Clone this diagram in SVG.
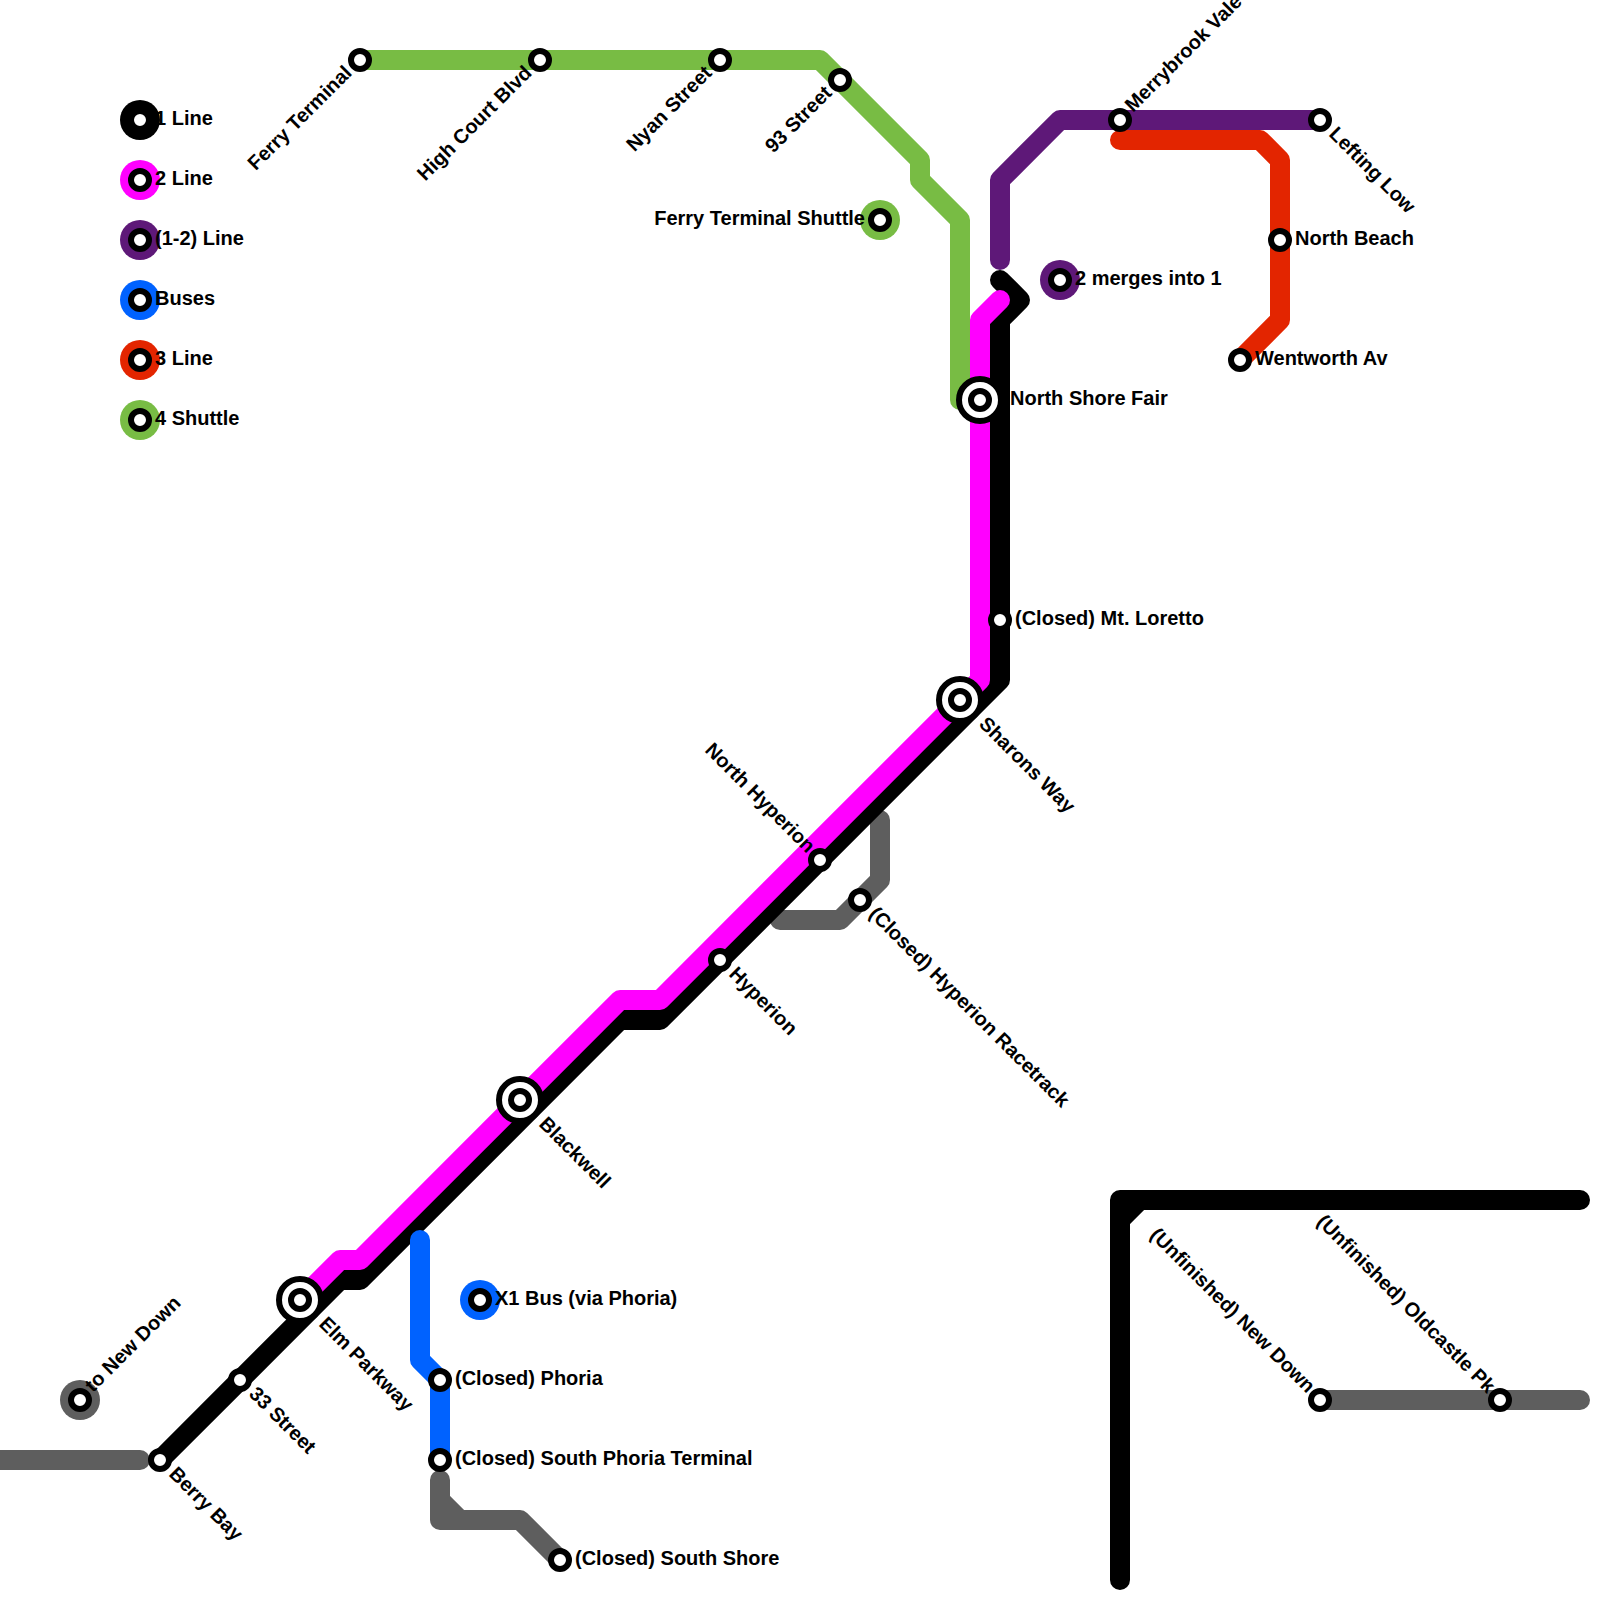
<svg xmlns="http://www.w3.org/2000/svg" width="1600" height="1600" viewBox="0 0 1600 1600">
<style>
.l{fill:none;stroke-width:20;stroke-linecap:round;stroke-linejoin:round}
.k{stroke:#000}.m{stroke:#f0f}.p{stroke:#5e1878}.b{stroke:#0062ff}.r{stroke:#e32500}.g{stroke:#78bc44}.y{stroke:#5e5e5e}
.s{fill:#fff;stroke:#000;stroke-width:6}
.i{fill:#fff;stroke:#000;stroke-width:6}
text{font-family:"Liberation Sans",Arial,sans-serif;font-weight:700;font-size:20px;fill:#000}
.e{text-anchor:end}
</style>
<rect width="1600" height="1600" fill="#fff"/>
<g id="connectors">
<path class="l y" d="M0 1460H140"/>
<path class="l y" d="M1320 1400H1580"/>
<path class="l y" d="M880 820V880L840 920H780"/>
<path class="l y" d="M440 1480V1520H520L560 1560M440 1500L460 1520"/>
<path class="l g" d="M360 60H820L920 160V180L960 220V400"/>
<path class="l p" d="M1000 260V180L1060 120H1320"/>
<path class="l r" d="M1120 140H1260L1280 160V320L1240 360"/>
<path class="l k" d="M1000 280L1020 300L1000 320V680L660 1020H620L360 1280H340L160 1460"/>
<path class="l k" d="M1120 1580V1200H1580M1120 1220L1140 1200"/>
<path class="l m" d="M1000 300L980 320V680L660 1000H620L360 1260H340L300 1300"/>
<path class="l b" d="M420 1240V1360L440 1380V1460"/>
</g>
<g id="legend-1"><circle cx="140" cy="120" r="20" fill="#000"/><circle class="s" cx="140" cy="120" r="9"/><text x="155" y="125">1 Line</text></g>
<g id="legend-2"><circle cx="140" cy="180" r="20" fill="#f0f"/><circle class="s" cx="140" cy="180" r="9"/><text x="155" y="185">2 Line</text></g>
<g id="legend-12"><circle cx="140" cy="240" r="20" fill="#5e1878"/><circle class="s" cx="140" cy="240" r="9"/><text x="155" y="245">(1-2) Line</text></g>
<g id="legend-buses"><circle cx="140" cy="300" r="20" fill="#0062ff"/><circle class="s" cx="140" cy="300" r="9"/><text x="155" y="305">Buses</text></g>
<g id="legend-3"><circle cx="140" cy="360" r="20" fill="#e32500"/><circle class="s" cx="140" cy="360" r="9"/><text x="155" y="365">3 Line</text></g>
<g id="legend-4"><circle cx="140" cy="420" r="20" fill="#78bc44"/><circle class="s" cx="140" cy="420" r="9"/><text x="155" y="425">4 Shuttle</text></g>
<g id="ferry-terminal"><circle class="s" cx="360" cy="60" r="9"/><text class="e" transform="translate(353 74) rotate(-45)">Ferry Terminal</text></g>
<g id="high-court"><circle class="s" cx="540" cy="60" r="9"/><text class="e" transform="translate(533 74) rotate(-45)">High Court Blvd</text></g>
<g id="nyan"><circle class="s" cx="720" cy="60" r="9"/><text class="e" transform="translate(713 74) rotate(-45)">Nyan Street</text></g>
<g id="s93"><circle class="s" cx="840" cy="80" r="9"/><text class="e" transform="translate(833 94) rotate(-45)">93 Street</text></g>
<g id="ferry-shuttle"><circle cx="880" cy="220" r="20" fill="#78bc44"/><circle class="s" cx="880" cy="220" r="9"/><text class="e" x="865" y="225">Ferry Terminal Shuttle</text></g>
<g id="merrybrook"><circle class="s" cx="1120" cy="120" r="9"/><text transform="translate(1133 113) rotate(-45)">Merrybrook Vale</text></g>
<g id="lefting"><circle class="s" cx="1320" cy="120" r="9"/><text transform="translate(1328 135) rotate(45)">Lefting Low</text></g>
<g id="north-beach"><circle class="s" cx="1280" cy="240" r="9"/><text x="1295" y="245">North Beach</text></g>
<g id="wentworth"><circle class="s" cx="1240" cy="360" r="9"/><text x="1255" y="365">Wentworth Av</text></g>
<g id="merge"><circle cx="1060" cy="280" r="20" fill="#5e1878"/><circle class="s" cx="1060" cy="280" r="9"/><text x="1075" y="285">2 merges into 1</text></g>
<g id="north-shore"><circle cx="980" cy="400" r="21" class="i"/><circle class="s" cx="980" cy="400" r="9"/><text x="1010" y="405">North Shore Fair</text></g>
<g id="loretto"><circle class="s" cx="1000" cy="620" r="9"/><text x="1015" y="625">(Closed) Mt. Loretto</text></g>
<g id="sharons"><circle cx="960" cy="700" r="21" class="i"/><circle class="s" cx="960" cy="700" r="9"/><text transform="translate(978 725) rotate(45)">Sharons Way</text></g>
<g id="north-hyperion"><circle class="s" cx="820" cy="860" r="9"/><text class="e" transform="translate(807 854) rotate(45)">North Hyperion</text></g>
<g id="hyperion"><circle class="s" cx="720" cy="960" r="9"/><text transform="translate(728 975) rotate(45)">Hyperion</text></g>
<g id="hyperion-racetrack"><circle class="s" cx="860" cy="900" r="9"/><text transform="translate(868 915) rotate(45)">(Closed) Hyperion Racetrack</text></g>
<g id="blackwell"><circle cx="520" cy="1100" r="21" class="i"/><circle class="s" cx="520" cy="1100" r="9"/><text transform="translate(538 1125) rotate(45)">Blackwell</text></g>
<g id="elm"><circle cx="300" cy="1300" r="21" class="i"/><circle class="s" cx="300" cy="1300" r="9"/><text transform="translate(318 1325) rotate(45)">Elm Parkway</text></g>
<g id="s33"><circle class="s" cx="240" cy="1380" r="9"/><text transform="translate(248 1395) rotate(45)">33 Street</text></g>
<g id="berry"><circle class="s" cx="160" cy="1460" r="9"/><text transform="translate(168 1475) rotate(45)">Berry Bay</text></g>
<g id="to-new-down"><circle cx="80" cy="1400" r="20" fill="#5e5e5e"/><circle class="s" cx="80" cy="1400" r="9"/><text transform="translate(93 1393) rotate(-45)">to New Down</text></g>
<g id="x1"><circle cx="480" cy="1300" r="20" fill="#0062ff"/><circle class="s" cx="480" cy="1300" r="9"/><text x="495" y="1305">X1 Bus (via Phoria)</text></g>
<g id="phoria"><circle class="s" cx="440" cy="1380" r="9"/><text x="455" y="1385">(Closed) Phoria</text></g>
<g id="south-phoria"><circle class="s" cx="440" cy="1460" r="9"/><text x="455" y="1465">(Closed) South Phoria Terminal</text></g>
<g id="south-shore"><circle class="s" cx="560" cy="1560" r="9"/><text x="575" y="1565">(Closed) South Shore</text></g>
<g id="unf-new-down"><circle class="s" cx="1320" cy="1400" r="9"/><text class="e" transform="translate(1307 1394) rotate(45)">(Unfinished) New Down</text></g>
<g id="unf-oldcastle"><circle class="s" cx="1500" cy="1400" r="9"/><text class="e" transform="translate(1487 1394) rotate(45)">(Unfinished) Oldcastle Pk</text></g>
</svg>
